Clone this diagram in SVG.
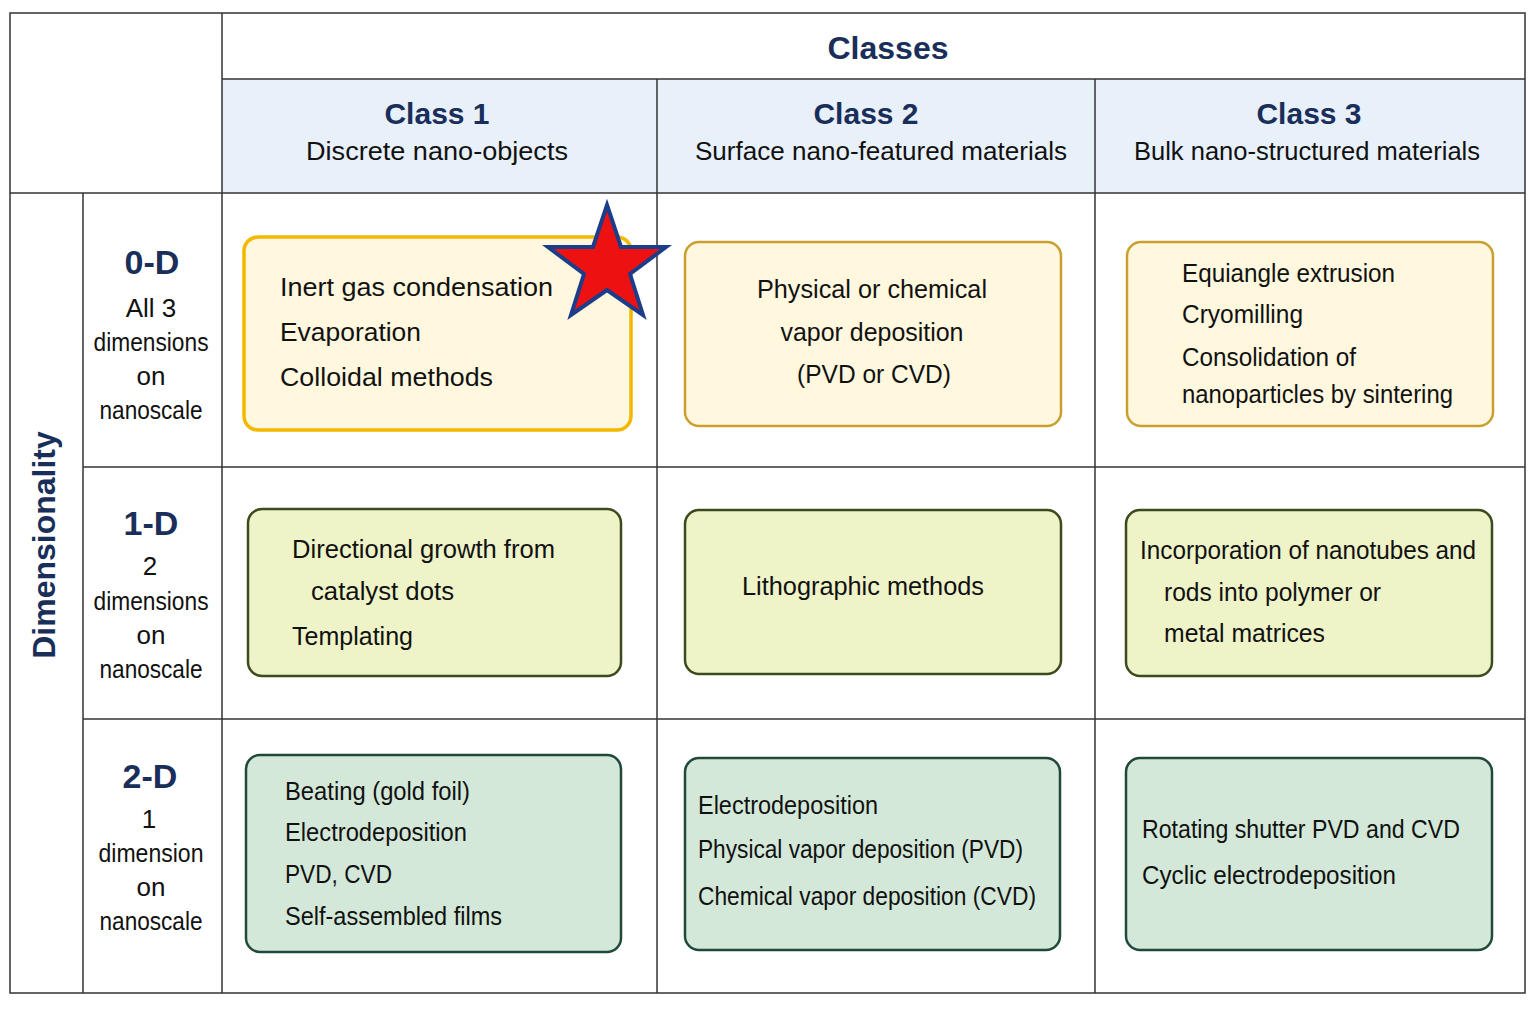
<svg xmlns="http://www.w3.org/2000/svg" width="1536" height="1024" viewBox="0 0 1536 1024">
<style>
.g{stroke:#333;stroke-width:1.5;fill:none}
.t{font-family:"Liberation Sans",Arial,sans-serif;fill:#111;font-size:26px}
.h{font-family:"Liberation Sans",Arial,sans-serif;fill:#1a2e5a;font-weight:bold}
.y{fill:#fff8de;stroke:#c9a030;stroke-width:2.5}
.l{fill:#eef3c8;stroke:#3d4a1e;stroke-width:2.5}
.d{fill:#d3e8d8;stroke:#1f4a3a;stroke-width:2.5}
</style>
<rect width="1536" height="1024" fill="#fff"/>
<g id="grid">
<rect x="222" y="79" width="1303" height="114" fill="#e8f0fa"/>
<rect x="10" y="13" width="1515" height="980" class="g"/>
<line x1="222" y1="13" x2="222" y2="993" class="g"/>
<line x1="222" y1="79" x2="1525" y2="79" class="g"/>
<line x1="657" y1="79" x2="657" y2="993" class="g"/>
<line x1="1095" y1="79" x2="1095" y2="993" class="g"/>
<line x1="10" y1="193" x2="1525" y2="193" class="g"/>
<line x1="83" y1="467" x2="1525" y2="467" class="g"/>
<line x1="83" y1="719" x2="1525" y2="719" class="g"/>
<line x1="83" y1="193" x2="83" y2="993" class="g"/>
</g>
<g id="headers">
<text x="888" y="59" class="h" font-size="32" text-anchor="middle">Classes</text>
<text x="437" y="124" class="h" font-size="30" text-anchor="middle">Class 1</text>
<text x="437" y="160" class="t" text-anchor="middle" textLength="262" lengthAdjust="spacingAndGlyphs">Discrete nano-objects</text>
<text x="866" y="124" class="h" font-size="30" text-anchor="middle">Class 2</text>
<text x="881" y="160" class="t" text-anchor="middle" textLength="372" lengthAdjust="spacingAndGlyphs">Surface nano-featured materials</text>
<text x="1309" y="124" class="h" font-size="30" text-anchor="middle">Class 3</text>
<text x="1307" y="160" class="t" text-anchor="middle" textLength="346" lengthAdjust="spacingAndGlyphs">Bulk nano-structured materials</text>
<text transform="translate(55,545) rotate(-90)" class="h" font-size="32" text-anchor="middle">Dimensionality</text>
</g>
<g id="dims" class="t" text-anchor="middle">
<text x="152" y="274" class="h" font-size="34" text-anchor="middle">0-D</text>
<text x="151" y="317">All 3</text><text x="151" y="351" textLength="115" lengthAdjust="spacingAndGlyphs">dimensions</text><text x="151" y="385">on</text><text x="151" y="419" textLength="103" lengthAdjust="spacingAndGlyphs">nanoscale</text>
<text x="151" y="535" class="h" font-size="34" text-anchor="middle">1-D</text>
<text x="150" y="575">2</text><text x="151" y="610" textLength="115" lengthAdjust="spacingAndGlyphs">dimensions</text><text x="151" y="644">on</text><text x="151" y="678" textLength="103" lengthAdjust="spacingAndGlyphs">nanoscale</text>
<text x="150" y="788" class="h" font-size="34" text-anchor="middle">2-D</text>
<text x="149" y="828">1</text><text x="151" y="862" textLength="105" lengthAdjust="spacingAndGlyphs">dimension</text><text x="151" y="896">on</text><text x="151" y="930" textLength="103" lengthAdjust="spacingAndGlyphs">nanoscale</text>
</g>
<g id="n11"><rect x="244" y="237" width="387" height="193" rx="14" class="y" style="stroke:#f5b800;stroke-width:3.5"/>
<text class="t"><tspan x="280" y="296" textLength="273" lengthAdjust="spacingAndGlyphs">Inert gas condensation</tspan><tspan x="280" y="341" textLength="141" lengthAdjust="spacingAndGlyphs">Evaporation</tspan><tspan x="280" y="386" textLength="213" lengthAdjust="spacingAndGlyphs">Colloidal methods</tspan></text></g>
<g id="n12"><rect x="685" y="242" width="376" height="184" rx="14" class="y"/>
<text class="t" text-anchor="middle"><tspan x="872" y="298" textLength="230" lengthAdjust="spacingAndGlyphs">Physical or chemical</tspan><tspan x="872" y="341" textLength="183" lengthAdjust="spacingAndGlyphs">vapor deposition</tspan><tspan x="874" y="383" textLength="154" lengthAdjust="spacingAndGlyphs">(PVD or CVD)</tspan></text></g>
<g id="n13"><rect x="1127" y="242" width="366" height="184" rx="14" class="y"/>
<text class="t"><tspan x="1182" y="282" textLength="213" lengthAdjust="spacingAndGlyphs">Equiangle extrusion</tspan><tspan x="1182" y="323" textLength="121" lengthAdjust="spacingAndGlyphs">Cryomilling</tspan><tspan x="1182" y="366" textLength="174" lengthAdjust="spacingAndGlyphs">Consolidation of</tspan><tspan x="1182" y="403" textLength="271" lengthAdjust="spacingAndGlyphs">nanoparticles by sintering</tspan></text></g>
<g id="n21"><rect x="248" y="509" width="373" height="167" rx="14" class="l"/>
<text class="t"><tspan x="292" y="558" textLength="263" lengthAdjust="spacingAndGlyphs">Directional growth from</tspan><tspan x="311" y="600" textLength="143" lengthAdjust="spacingAndGlyphs">catalyst dots</tspan><tspan x="292" y="645" textLength="121" lengthAdjust="spacingAndGlyphs">Templating</tspan></text></g>
<g id="n22"><rect x="685" y="510" width="376" height="164" rx="14" class="l"/>
<text class="t" x="742" y="595" textLength="242" lengthAdjust="spacingAndGlyphs">Lithographic methods</text></g>
<g id="n23"><rect x="1126" y="510" width="366" height="166" rx="14" class="l"/>
<text class="t"><tspan x="1140" y="559" textLength="336" lengthAdjust="spacingAndGlyphs">Incorporation of nanotubes and</tspan><tspan x="1164" y="601" textLength="217" lengthAdjust="spacingAndGlyphs">rods into polymer or</tspan><tspan x="1164" y="642" textLength="161" lengthAdjust="spacingAndGlyphs">metal matrices</tspan></text></g>
<g id="n31"><rect x="246" y="755" width="375" height="197" rx="14" class="d"/>
<text class="t"><tspan x="285" y="800" textLength="185" lengthAdjust="spacingAndGlyphs">Beating (gold foil)</tspan><tspan x="285" y="841" textLength="182" lengthAdjust="spacingAndGlyphs">Electrodeposition</tspan><tspan x="285" y="883" textLength="107" lengthAdjust="spacingAndGlyphs">PVD, CVD</tspan><tspan x="285" y="925" textLength="217" lengthAdjust="spacingAndGlyphs">Self-assembled films</tspan></text></g>
<g id="n32"><rect x="685" y="758" width="375" height="192" rx="14" class="d"/>
<text class="t"><tspan x="698" y="814" textLength="180" lengthAdjust="spacingAndGlyphs">Electrodeposition</tspan><tspan x="698" y="858" textLength="325" lengthAdjust="spacingAndGlyphs">Physical vapor deposition (PVD)</tspan><tspan x="698" y="905" textLength="338" lengthAdjust="spacingAndGlyphs">Chemical vapor deposition (CVD)</tspan></text></g>
<g id="n33"><rect x="1126" y="758" width="366" height="192" rx="14" class="d"/>
<text class="t"><tspan x="1142" y="838" textLength="318" lengthAdjust="spacingAndGlyphs">Rotating shutter PVD and CVD</tspan><tspan x="1142" y="884" textLength="254" lengthAdjust="spacingAndGlyphs">Cyclic electrodeposition</tspan></text></g>
<g id="star"><polygon points="607,205 621,247 666,247 630,274 643,315 607,290 571,315 584,274 548,247 593,247" fill="#ee1111" stroke="#1c3d8a" stroke-width="4"/></g>
<g id="connectors"/>
</svg>
